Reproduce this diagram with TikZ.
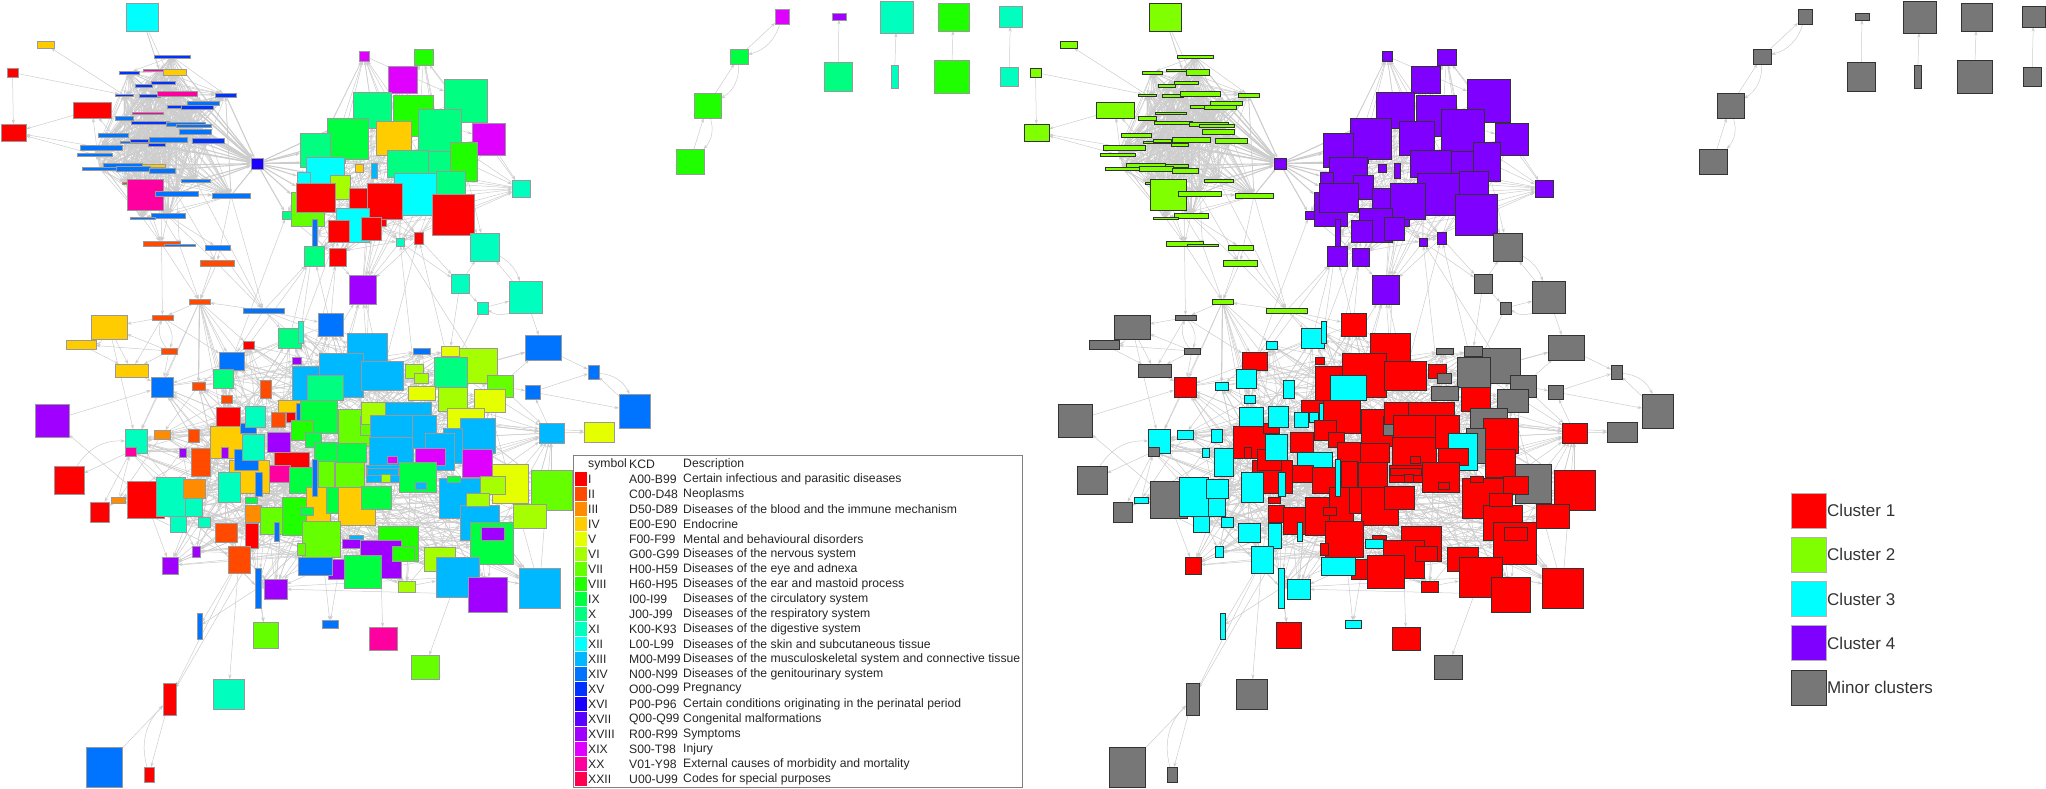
\documentclass[tikz,border=0pt]{standalone}
\usepackage{fontspec}
\setmainfont{Liberation Sans}
\usetikzlibrary{arrows.meta,backgrounds}
\definecolor{c1}{HTML}{FF0000}\definecolor{c2}{HTML}{FF4A00}\definecolor{c3}{HTML}{FF8C00}
\definecolor{c4}{HTML}{FFCC00}\definecolor{c5}{HTML}{E6FF00}\definecolor{c6}{HTML}{A6FF00}
\definecolor{c7}{HTML}{66FF00}\definecolor{c8}{HTML}{1FFF00}\definecolor{c9}{HTML}{00FF40}
\definecolor{c10}{HTML}{00FF80}\definecolor{c11}{HTML}{00FFBF}\definecolor{c12}{HTML}{00FFFF}
\definecolor{c13}{HTML}{00B8FF}\definecolor{c14}{HTML}{0073FF}\definecolor{c15}{HTML}{0033FF}
\definecolor{c16}{HTML}{1A00FF}\definecolor{c17}{HTML}{5900FF}\definecolor{c18}{HTML}{A000FF}
\definecolor{c19}{HTML}{E000FF}\definecolor{c20}{HTML}{FF00A0}\definecolor{c22}{HTML}{FF0050}
\definecolor{r1}{HTML}{FF0000}\definecolor{r2}{HTML}{80FF00}\definecolor{r3}{HTML}{00FFFF}
\definecolor{r4}{HTML}{8000FF}\definecolor{rg}{HTML}{777777}
\tikzset{
  boxA/.style={rectangle,draw=black!40,line width=0.5pt,inner sep=0pt,outer sep=0pt},
  boxB/.style={rectangle,draw=black!80,line width=0.6pt,inner sep=0pt,outer sep=0pt},
  edge/.style={draw=black!20,line width=0.5pt,-{Stealth[length=4.5pt,width=3.2pt]}},
  thick edge/.style={edge,line width=1.1pt},
  txt/.style={anchor=west,inner sep=0pt,text=black!85,font=\fontsize{12.2}{14}\selectfont},
  ltxt/.style={anchor=west,inner sep=0pt,text=black!80,font=\fontsize{17}{20}\selectfont},
}
\newcommand\Bx[7]{%
  \node[boxA,fill=#6,minimum width={(#4-#2)*1pt},minimum height={(#5-#3)*1pt}] (a#1) at ({(#2+#4)/2},{(#3+#5)/2}) {};
  \node[boxB,fill=#7,minimum width={(#4-#2)*1pt},minimum height={(#5-#3)*1pt}] (b#1) at ({(#2+#4)/2+1023},{(#3+#5)/2}) {};}
\newcommand\Edg[2]{\draw[edge] (a#1) -- (a#2); \draw[edge] (b#1) -- (b#2);}
\newcommand\Ebend[3]{\draw[edge] (a#1) to[bend left=#3] (a#2); \draw[edge] (b#1) to[bend left=#3] (b#2);}
\begin{document}
\begin{tikzpicture}[x=1pt,y=-1pt]
\useasboundingbox (0,0) rectangle (2046,788);
% ---------------- top-left group
\Bx{t1}{126}{3}{158}{31}{c12}{r2}
\Bx{t2}{37}{41}{54}{48}{c4}{r2}
\Bx{t3}{7}{68}{18}{77}{c1}{r2}
\Bx{t4}{73}{102}{111}{118}{c1}{r2}
\Bx{t5}{1}{124}{26}{141}{c1}{r2}
\Bx{t6}{154}{55}{190}{58}{c15}{r2}
\Bx{t7}{119}{71}{139}{74}{c15}{r2}
\Bx{t8}{143}{69}{176}{71}{c20}{r2}
\Bx{t9}{163}{69}{186}{75}{c4}{r2}
\Bx{t10}{135}{84}{152}{87}{c15}{r2}
\Bx{t11}{151}{81}{175}{84}{c15}{r2}
\Bx{t12}{115}{94}{133}{96}{c15}{r2}
\Bx{t13}{139}{94}{160}{97}{c15}{r2}
\Bx{t14}{157}{91}{197}{96}{c20}{r2}
\Bx{t15}{215}{93}{236}{97}{c15}{r2}
\Bx{t16}{187}{101}{219}{105}{c14}{r2}
\Bx{t17}{167}{105}{198}{108}{c15}{r2}
\Bx{t18}{181}{105}{213}{109}{c15}{r2}
\Bx{t19}{132}{112}{163}{114}{c20}{r2}
\Bx{t20}{115}{116}{133}{120}{c14}{r2}
\Bx{t21}{131}{121}{169}{124}{c15}{r2}
\Bx{t22}{166}{122}{205}{126}{c14}{r2}
\Bx{t23}{176}{124}{211}{127}{c14}{r2}
\Bx{t24}{179}{129}{211}{134}{c14}{r2}
\Bx{t25}{98}{133}{128}{137}{c14}{r2}
\Bx{t26}{120}{141}{147}{143}{c14}{r2}
\Bx{t27}{130}{139}{148}{142}{c15}{r2}
\Bx{t28}{149}{137}{187}{142}{c14}{r2}
\Bx{t29}{192}{138}{224}{143}{c15}{r2}
\Bx{t30}{148}{143}{165}{146}{c15}{r2}
\Bx{t31}{80}{145}{122}{150}{c14}{r2}
\Bx{t32}{77}{153}{112}{156}{c14}{r2}
\Bx{t33}{103}{163}{142}{167}{c14}{r2}
\Bx{t34}{142}{164}{165}{167}{c4}{r2}
\Bx{t35}{82}{167}{117}{170}{c14}{r2}
\Bx{t36}{116}{166}{150}{171}{c14}{r2}
\Bx{t37}{149}{168}{175}{173}{c14}{r2}
\Bx{t38}{181}{179}{210}{182}{c14}{r2}
\Bx{t39}{122}{182}{128}{184}{c2}{r2}
\Bx{t40}{127}{179}{163}{210}{c20}{r2}
\Bx{t41}{155}{191}{198}{196}{c14}{r2}
\Bx{t42}{212}{193}{250}{198}{c14}{r2}
\Bx{t43}{151}{213}{185}{218}{c14}{r2}
\Bx{t44}{130}{217}{155}{219}{c14}{r2}
\Bx{t45}{143}{241}{180}{246}{c2}{r2}
\Bx{t46}{164}{244}{195}{246}{c14}{r2}
\Bx{t47}{205}{245}{230}{250}{c14}{r2}
\Bx{t48}{200}{260}{234}{266}{c2}{r2}
\Bx{t49}{189}{299}{210}{304}{c2}{r2}
\Bx{t50}{243}{308}{284}{313}{c14}{r2}
\Bx{h}{251}{158}{263}{169}{c16}{r4}
\Bx{m1}{152}{315}{173}{320}{c2}{rg}
\Bx{m2}{91}{315}{127}{339}{c4}{rg}
\Bx{m3}{66}{340}{96}{349}{c4}{rg}
\Bx{m4}{161}{348}{177}{354}{c2}{rg}
\Bx{m5}{115}{364}{148}{377}{c4}{rg}
% ---------------- upper-right group
\Bx{u1}{359}{51}{369}{61}{c19}{r4}
\Bx{u2}{414}{49}{433}{65}{c8}{r4}
\Bx{u3}{388}{66}{417}{93}{c19}{r4}
\Bx{u4}{444}{79}{487}{122}{c10}{r4}
\Bx{u5}{353}{92}{391}{128}{c10}{r4}
\Bx{u6}{393}{95}{433}{136}{c8}{r4}
\Bx{u7}{418}{109}{461}{152}{c10}{r4}
\Bx{u8}{376}{121}{411}{155}{c4}{r4}
\Bx{u9}{472}{123}{505}{155}{c19}{r4}
\Bx{u10}{327}{118}{368}{159}{c9}{r4}
\Bx{u11}{300}{133}{330}{167}{c10}{r4}
\Bx{u12}{450}{142}{477}{181}{c8}{r4}
\Bx{u13}{387}{150}{428}{177}{c10}{r4}
\Bx{u14}{428}{151}{450}{177}{c10}{r4}
\Bx{u15}{436}{171}{465}{197}{c10}{r4}
\Bx{u16}{330}{159}{345}{163}{c18}{r4}
\Bx{u17}{355}{164}{363}{172}{c4}{r4}
\Bx{u18}{371}{163}{377}{178}{c13}{r4}
\Bx{u19}{306}{157}{344}{195}{c12}{r4}
\Bx{u20}{394}{173}{436}{215}{c12}{r4}
\Bx{u21}{297}{172}{310}{184}{c12}{r4}
\Bx{u22}{330}{175}{350}{199}{c6}{r4}
\Bx{u23}{291}{192}{324}{226}{c7}{r4}
\Bx{u24}{296}{183}{335}{212}{c1}{r4}
\Bx{u25}{349}{188}{386}{226}{c1}{r4}
\Bx{u26}{367}{183}{402}{219}{c1}{r4}
\Bx{u27}{432}{194}{474}{235}{c1}{r4}
\Bx{u28}{336}{208}{369}{242}{c12}{r4}
\Bx{u29}{328}{220}{349}{242}{c1}{r4}
\Bx{u30}{361}{217}{381}{240}{c1}{r4}
\Bx{u31}{312}{219}{317}{253}{c14}{r4}
\Bx{u32}{304}{246}{324}{266}{c10}{r4}
\Bx{u33}{329}{248}{346}{266}{c1}{r4}
\Bx{u34}{396}{238}{404}{246}{c11}{r4}
\Bx{u35}{414}{232}{423}{244}{c1}{r4}
\Bx{u36}{282}{211}{291}{219}{c10}{r4}
\Bx{u37}{512}{180}{530}{197}{c11}{r4}
\Bx{u38}{349}{275}{376}{304}{c18}{r4}
\Bx{g1}{470}{233}{499}{261}{c11}{rg}
\Bx{g2}{451}{274}{469}{293}{c11}{rg}
\Bx{g3}{509}{281}{542}{313}{c11}{rg}
\Bx{g4}{477}{302}{488}{314}{c11}{rg}
% ---------------- lower group
\Bx{l1}{278}{328}{301}{348}{c10}{r3}
\Bx{l2}{298}{321}{303}{343}{c11}{r3}
\Bx{l3}{318}{313}{343}{336}{c14}{r1}
\Bx{l4}{243}{341}{254}{349}{c1}{r3}
\Bx{l5}{219}{352}{244}{370}{c14}{r1}
\Bx{l6}{213}{369}{233}{388}{c10}{r3}
\Bx{l7}{151}{377}{173}{397}{c14}{r1}
\Bx{l8}{192}{382}{205}{390}{c2}{r3}
\Bx{l9}{260}{380}{271}{398}{c2}{r3}
\Bx{l10}{221}{395}{232}{403}{c2}{r3}
\Bx{l11}{292}{357}{301}{364}{c18}{r1}
\Bx{l12}{347}{333}{387}{369}{c13}{r1}
\Bx{x19}{349}{355}{361}{362}{c13}{rg}
\Bx{l13}{322}{354}{354}{386}{c6}{r1}
\Bx{l14}{319}{353}{363}{397}{c13}{r1}
\Bx{l15}{292}{366}{319}{400}{c13}{r1}
\Bx{l16}{307}{375}{343}{400}{c10}{r3}
\Bx{l17}{361}{361}{403}{390}{c13}{r1}
\Bx{l18}{413}{348}{430}{354}{c14}{rg}
\Bx{l19}{441}{346}{459}{356}{c5}{rg}
\Bx{l20}{459}{348}{497}{383}{c6}{rg}
\Bx{l21}{434}{357}{467}{387}{c10}{rg}
\Bx{l22}{405}{364}{423}{378}{c6}{r1}
\Bx{l23}{414}{373}{428}{383}{c6}{rg}
\Bx{l24}{487}{375}{513}{397}{c7}{rg}
\Bx{l25}{408}{386}{435}{400}{c5}{rg}
\Bx{l26}{438}{387}{467}{411}{c6}{r1}
\Bx{l27}{474}{389}{505}{412}{c5}{rg}
\Bx{l28}{447}{408}{484}{439}{c5}{rg}
\Bx{x14}{460}{418}{495}{453}{c13}{r1}
\Bx{l29}{539}{423}{564}{443}{c13}{r1}
\Bx{l30}{125}{429}{147}{453}{c11}{r3}
\Bx{l31}{154}{430}{170}{439}{c3}{r3}
\Bx{l32}{188}{429}{199}{442}{c2}{r3}
\Bx{l33}{125}{447}{136}{456}{c20}{rg}
\Bx{l34}{179}{448}{186}{457}{c18}{r3}
\Bx{l35}{111}{497}{125}{503}{c3}{r3}
\Bx{l36}{127}{481}{164}{518}{c1}{rg}
\Bx{l37}{156}{477}{185}{516}{c11}{r3}
\Bx{l38}{185}{497}{202}{516}{c11}{r3}
\Bx{l39}{183}{479}{205}{498}{c3}{r3}
\Bx{l40}{170}{516}{186}{532}{c11}{r3}
\Bx{l41}{198}{517}{210}{527}{c11}{r3}
\Bx{l42}{191}{448}{210}{476}{c2}{r3}
\Bx{l43}{216}{407}{240}{426}{c1}{r3}
\Bx{l44}{215}{523}{237}{542}{c2}{r3}
\Bx{l45}{245}{523}{258}{548}{c1}{r3}
\Bx{l46}{228}{546}{250}{573}{c2}{r3}
\Bx{l47}{162}{557}{178}{574}{c18}{r1}
\Bx{l48}{192}{546}{200}{557}{c18}{r3}
\Bx{l49}{210}{426}{242}{458}{c4}{r1}
\Bx{x16}{240}{423}{256}{433}{c14}{r1}
\Bx{x20}{221}{447}{228}{458}{c18}{r1}
\Bx{l50}{229}{460}{269}{493}{c4}{r1}
\Bx{l51}{234}{449}{258}{470}{c14}{r1}
\Bx{l52}{242}{434}{264}{460}{c11}{r3}
\Bx{l53}{245}{406}{265}{427}{c11}{r3}
\Bx{l54}{271}{412}{285}{427}{c2}{r3}
\Bx{l55}{286}{408}{295}{422}{c1}{r3}
\Bx{x1}{278}{400}{300}{412}{c4}{r1}
\Bx{x17}{296}{403}{301}{420}{c14}{r3}
\Bx{l56}{267}{432}{290}{452}{c18}{r1}
\Bx{l57}{274}{452}{309}{467}{c1}{r3}
\Bx{l58}{269}{465}{290}{482}{c20}{r1}
\Bx{l59}{218}{472}{240}{502}{c11}{r3}
\Bx{x11}{255}{472}{262}{496}{c14}{r3}
\Bx{l60}{245}{505}{261}{522}{c3}{r1}
\Bx{l61}{245}{497}{257}{503}{c9}{r1}
\Bx{l62}{260}{507}{286}{534}{c7}{r1}
\Bx{l63}{274}{522}{279}{541}{c14}{r3}
\Bx{l64}{282}{497}{322}{535}{c8}{r1}
\Bx{l65}{300}{400}{337}{433}{c9}{r1}
\Bx{x9}{291}{420}{313}{440}{c8}{r1}
\Bx{x18}{305}{432}{321}{447}{c9}{r1}
\Bx{l66}{338}{409}{377}{446}{c7}{r1}
\Bx{x12}{360}{416}{382}{435}{c7}{rg}
\Bx{l67}{361}{402}{398}{424}{c6}{r1}
\Bx{l68}{385}{402}{431}{427}{c13}{r1}
\Bx{x2}{384}{415}{414}{442}{c13}{r1}
\Bx{l69}{370}{415}{412}{467}{c13}{r1}
\Bx{x4}{369}{437}{413}{468}{c13}{r1}
\Bx{l70}{412}{415}{436}{448}{c13}{r1}
\Bx{l71}{314}{442}{337}{462}{c9}{r1}
\Bx{l72}{337}{443}{366}{462}{c9}{r1}
\Bx{l73}{335}{462}{364}{487}{c7}{r1}
\Bx{x7}{318}{461}{334}{487}{c7}{r1}
\Bx{l74}{366}{465}{415}{482}{c13}{r1}
\Bx{x8}{367}{468}{398}{475}{c13}{r1}
\Bx{x13}{443}{428}{462}{463}{c13}{rg}
\Bx{x5}{425}{433}{454}{470}{c13}{r3}
\Bx{l75}{415}{448}{445}{465}{c19}{r1}
\Bx{l76}{462}{449}{492}{477}{c19}{r1}
\Bx{l77}{387}{456}{397}{463}{c19}{r1}
\Bx{l78}{381}{474}{390}{482}{c6}{r1}
\Bx{l79}{289}{467}{318}{493}{c9}{r1}
\Bx{l80}{399}{462}{436}{492}{c9}{r1}
\Bx{l81}{415}{482}{426}{489}{c13}{r1}
\Bx{l82}{338}{487}{375}{525}{c4}{r1}
\Bx{l83}{361}{486}{391}{509}{c9}{r1}
\Bx{x6}{306}{487}{330}{522}{c4}{r1}
\Bx{l84}{326}{487}{338}{513}{c9}{r1}
\Bx{l85}{300}{507}{313}{515}{c9}{r1}
\Bx{l86}{302}{521}{340}{557}{c7}{r1}
\Bx{x22}{297}{543}{305}{555}{c7}{r1}
\Bx{l87}{378}{526}{418}{561}{c8}{r1}
\Bx{x23}{349}{535}{363}{542}{c13}{r1}
\Bx{l88}{342}{539}{363}{548}{c18}{r3}
\Bx{l89}{360}{540}{401}{578}{c18}{r1}
\Bx{x15}{392}{546}{414}{561}{c8}{r1}
\Bx{l90}{328}{559}{350}{579}{c18}{r1}
\Bx{l91}{298}{557}{332}{575}{c14}{r3}
\Bx{l92}{344}{555}{381}{588}{c9}{r1}
\Bx{l93}{398}{581}{415}{592}{c6}{r1}
\Bx{l94}{439}{478}{481}{518}{c13}{r1}
\Bx{l95}{460}{505}{499}{540}{c13}{r1}
\Bx{l96}{492}{464}{528}{503}{c5}{rg}
\Bx{l97}{480}{476}{505}{494}{c6}{r1}
\Bx{l98}{466}{493}{489}{506}{c6}{r1}
\Bx{l99}{531}{470}{572}{510}{c7}{r1}
\Bx{l100}{513}{504}{546}{528}{c6}{r1}
\Bx{l101}{470}{522}{513}{564}{c9}{r1}
\Bx{l102}{481}{527}{504}{540}{c18}{r1}
\Bx{l103}{424}{547}{455}{571}{c6}{r1}
\Bx{l104}{436}{557}{479}{597}{c13}{r1}
\Bx{l105}{468}{577}{507}{612}{c18}{r1}
\Bx{l106}{519}{568}{560}{608}{c13}{r1}
\Bx{l107}{447}{476}{460}{482}{c9}{r1}
\Bx{l108}{255}{568}{261}{608}{c14}{r3}
\Bx{l109}{264}{579}{287}{599}{c18}{r3}
\Bx{x10}{312}{459}{317}{496}{c14}{r3}
% periphery
\Bx{p1}{525}{335}{561}{360}{c14}{rg}
\Bx{p2}{588}{365}{599}{379}{c14}{rg}
\Bx{p3}{525}{385}{540}{399}{c14}{rg}
\Bx{p4}{619}{394}{650}{428}{c14}{rg}
\Bx{p5}{584}{422}{614}{442}{c5}{rg}
\Bx{p6}{35}{404}{69}{437}{c18}{rg}
\Bx{p7}{54}{466}{84}{494}{c1}{rg}
\Bx{p8}{90}{502}{109}{522}{c1}{rg}
\Bx{p9}{197}{613}{202}{639}{c14}{r3}
\Bx{p10}{253}{622}{278}{648}{c7}{r1}
\Bx{p11}{322}{620}{338}{628}{c14}{r3}
\Bx{p12}{369}{627}{397}{650}{c20}{r1}
\Bx{p13}{411}{655}{439}{679}{c7}{rg}
\Bx{p14}{213}{679}{244}{709}{c11}{rg}
\Bx{p15}{163}{683}{176}{715}{c1}{rg}
\Bx{p16}{86}{747}{122}{787}{c14}{rg}
\Bx{p17}{144}{767}{154}{782}{c1}{rg}
% islands
\Bx{i1}{676}{149}{704}{174}{c8}{rg}
\Bx{i2}{694}{93}{721}{118}{c8}{rg}
\Bx{i3}{730}{49}{748}{64}{c9}{rg}
\Bx{i4}{775}{9}{789}{24}{c19}{rg}
\Bx{i5}{824}{62}{852}{91}{c10}{rg}
\Bx{i6}{832}{13}{846}{20}{c18}{rg}
\Bx{i7}{891}{65}{898}{88}{c11}{rg}
\Bx{i8}{880}{1}{913}{33}{c11}{rg}
\Bx{i9}{934}{60}{969}{93}{c8}{rg}
\Bx{i10}{938}{3}{969}{31}{c8}{rg}
\Bx{i11}{1000}{67}{1018}{86}{c11}{rg}
\Bx{i12}{999}{6}{1022}{27}{c11}{rg}
% ---------------- edges
\begin{pgfonlayer}{background}
\foreach \p in {a,b}{
  \foreach \i in {6,...,44}{\foreach \k in {1,2,4,5,7,9,12,14,17,20,24,27,31}{%
    \pgfmathtruncatemacro\j{mod(\i-6+\k,39)+6}\draw[edge] (\p t\i) -- (\p t\j);}}
  \foreach \i in {1,...,38}{\foreach \k in {3,7,12,18,25}{%
    \pgfmathtruncatemacro\j{mod(\i-1+\k,38)+1}\draw[edge] (\p u\i) -- (\p u\j);}}
  \foreach \i in {1,...,109}{\foreach \k in {4,11,23,38,54,71}{%
    \pgfmathtruncatemacro\j{mod(\i-1+\k,109)+1}\draw[edge] (\p l\i) -- (\p l\j);}}
  \foreach \i in {6,9,11,14,16,18,22,24,28,29,34,37,38,41,42,15,23,13,21,26,30}{\draw[thick edge] (\p t\i) -- (\p h);}
  \foreach \i in {5,10,11,19,21,23,24,36,13,16}{\draw[thick edge] (\p h) -- (\p u\i);}
  \foreach \i in {5,6,7,8,9,10,43,49,53,30,4}{\draw[edge] (\p t49) -- (\p l\i);}
  \foreach \i in {1,3,12,5,14}{\draw[edge] (\p t50) -- (\p l\i);}
  \foreach \i in {12,13,14,17,15}{\draw[edge] (\p l\i) -- (\p u38);}
  \foreach \i in {20,28,76,94,96,99,101,106}{\draw[edge] (\p l\i) -- (\p l29);}
}
\draw[thick edge] (at49) -- (al8); \draw[thick edge] (bt49) -- (bl8);
\Edg{t3}{t5}\Edg{t3}{t12}\Edg{t12}{t2}\Edg{t4}{t5}\Edg{t31}{t5}\Edg{t32}{t5}\Edg{t35}{t4}
\Edg{t1}{t8}\Edg{t1}{t14}\Edg{t1}{t11}\Edg{t25}{t4}
\Edg{t41}{t48}\Edg{t42}{t48}\Edg{t43}{t45}\Edg{t44}{t45}\Edg{t40}{t45}\Edg{t45}{t49}\Edg{t46}{t49}
\Edg{t47}{t49}\Edg{t48}{t49}\Edg{t48}{t50}\Edg{t42}{t50}\Edg{t38}{t50}\Edg{t47}{t50}\Edg{t45}{m1}
\Edg{t50}{t49}\Edg{t41}{t46}\Edg{t43}{t47}\Edg{t40}{t48}\Edg{t37}{t45}\Edg{t33}{t45}\Edg{t36}{t46}
\Edg{t49}{m1}\Ebend{m1}{m4}{30}\Ebend{m4}{m1}{30}\Edg{m1}{m2}\Edg{m4}{m2}\Edg{m4}{m3}\Edg{m4}{m5}
\Edg{m2}{m5}\Edg{m3}{m5}\Edg{m1}{m5}\Ebend{m2}{m3}{30}\Edg{m4}{l7}\Edg{m5}{l7}\Edg{m1}{l5}\Edg{m2}{l30}
\Edg{l3}{u32}\Edg{l1}{u31}\Edg{l16}{u29}\Edg{l22}{u34}\Edg{l17}{u35}\Edg{l21}{u35}\Edg{l12}{u30}
\Edg{l2}{u29}\Edg{l11}{u31}\Edg{l5}{u36}\Edg{l4}{u32}\Edg{l15}{u33}\Edg{l20}{u34}\Edg{t50}{u32}
\Edg{u27}{g1}\Edg{u20}{g1}\Edg{u12}{g1}\Edg{u15}{g1}\Edg{u27}{u37}\Edg{u9}{u37}\Edg{u5}{u1}
\Ebend{g1}{g3}{20}\Edg{g3}{g1}\Edg{g2}{g4}\Edg{g4}{g3}\Ebend{g3}{g4}{30}\Edg{g2}{g1}\Edg{u35}{g2}
\Edg{g4}{l21}\Edg{g3}{p1}\Edg{g2}{l19}\Edg{u34}{g2}
\Edg{l20}{p1}\Edg{l21}{p1}\Edg{l24}{p1}\Edg{l24}{p3}\Edg{p3}{p2}\Edg{p3}{p4}\Ebend{p2}{p4}{30}
\Edg{p4}{p2}\Edg{l28}{p5}\Edg{l29}{p5}\Edg{l29}{p3}\Edg{p1}{p2}
\Edg{p6}{l7}\Edg{l36}{p6}\Edg{l33}{p7}\Ebend{p7}{l30}{30}\Edg{l35}{p8}\Edg{l33}{p8}\Edg{l35}{l33}
\Edg{l108}{p9}\Edg{l46}{p9}\Edg{l45}{p10}\Edg{l108}{p10}\Edg{l86}{p11}\Edg{l90}{p11}\Edg{l89}{p12}
\Edg{l104}{p13}\Edg{l46}{p14}\Edg{l62}{p15}\Edg{l45}{p15}\Edg{p16}{p15}\Edg{p15}{p17}\Ebend{p17}{p15}{30}
\Edg{i1}{i2}\Ebend{i2}{i1}{30}\Edg{i2}{i3}\Ebend{i3}{i2}{30}\Edg{i3}{i4}\Ebend{i4}{i3}{30}
\Edg{i5}{i6}\Edg{i7}{i8}\Edg{i9}{i10}\Edg{i11}{i12}
\end{pgfonlayer}
% ---------------- KCD legend
\node[draw=black!50,line width=0.8pt,fill=white,minimum width=449pt,minimum height=332pt,anchor=north west,inner sep=0pt] (legbox) at (573,455) {};
\node[txt] (hsym) at (588,464) {symbol};
\node[txt] (hkcd) at (629,464) {KCD};
\node[txt] (hdes) at (683,464) {Description};
\foreach \k/\s/\kc/\d/\c in {
 0/I/A00-B99/Certain infectious and parasitic diseases/c1,
 1/II/C00-D48/Neoplasms/c2,
 2/III/D50-D89/Diseases of the blood and the immune mechanism/c3,
 3/IV/E00-E90/Endocrine/c4,
 4/V/F00-F99/Mental and behavioural disorders/c5,
 5/VI/G00-G99/Diseases of the nervous system/c6,
 6/VII/H00-H59/Diseases of the eye and adnexa/c7,
 7/VIII/H60-H95/Diseases of the ear and mastoid process/c8,
 8/IX/I00-I99/Diseases of the circulatory system/c9,
 9/X/J00-J99/Diseases of the respiratory system/c10,
 10/XI/K00-K93/Diseases of the digestive system/c11,
 11/XII/L00-L99/Diseases of the skin and subcutaneous tissue/c12,
 12/XIII/M00-M99/Diseases of the musculoskeletal system and connective tissue/c13,
 13/XIV/N00-N99/Diseases of the genitourinary system/c14,
 14/XV/O00-O99/Pregnancy/c15,
 15/XVI/P00-P96/Certain conditions originating in the perinatal period/c16,
 16/XVII/Q00-Q99/Congenital malformations/c17,
 17/XVIII/R00-R99/Symptoms/c18,
 18/XIX/S00-T98/Injury/c19,
 19/XX/V01-Y98/External causes of morbidity and mortality/c20,
 20/XXII/U00-U99/Codes for special purposes/c22}{
 \node[fill=\c,minimum width=12pt,minimum height=14pt,inner sep=0pt] (sw\k) at (581,{479+15*\k}) {};
 \node[txt] (sy\k) at (588,{479+15*\k}) {\s};
 \node[txt] (kc\k) at (629,{479+15*\k}) {\kc};
 \node[txt] (de\k) at (683,{479+15*\k}) {\d};
}
% ---------------- cluster legend
\foreach \k/\c/\t/\bd in {0/r1/Cluster 1/black!30,1/r2/Cluster 2/black!30,2/r3/Cluster 3/black!30,3/r4/Cluster 4/black!30,4/rg/Minor clusters/black!80}{
 \node[draw=\bd,line width=0.6pt,fill=\c,minimum width=35pt,minimum height=35pt,inner sep=0pt] (cs\k) at (1808.5,{510.5+44.25*\k}) {};
 \node[ltxt] (ct\k) at (1827,{510.5+44.25*\k}) {\t};
}
\end{tikzpicture}
\end{document}
